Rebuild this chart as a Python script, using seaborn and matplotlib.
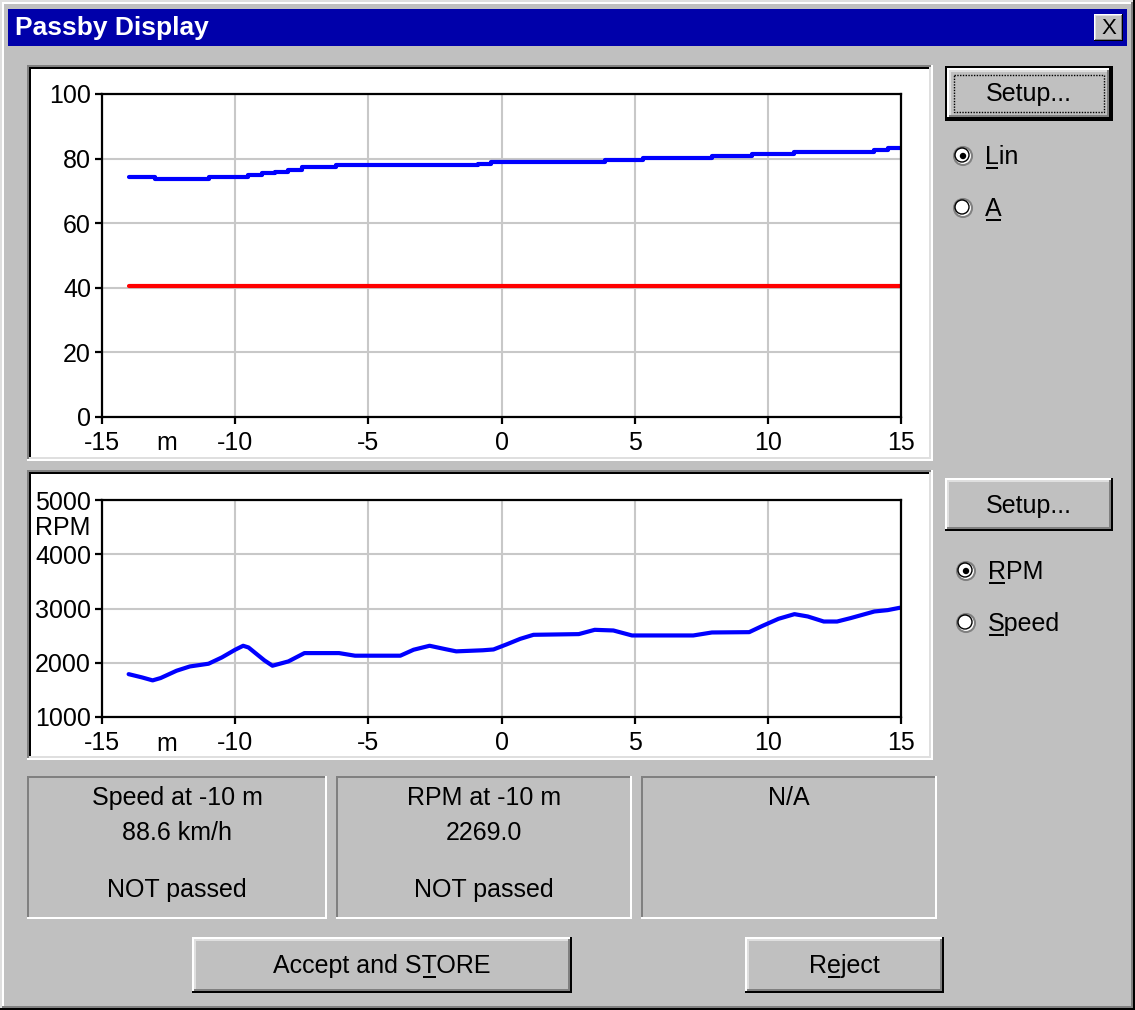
import matplotlib
matplotlib.use("Agg")
import matplotlib.pyplot as plt
import seaborn as sns
from matplotlib.patches import Rectangle, Circle

sns.set_style("white")
plt.rcParams['font.family'] = ['Liberation Sans', 'DejaVu Sans']

# ---------------- data ----------------
level_x = [-14, -13, -11, -9.5, -9, -8.5, -8, -7.5, -6.2, -0.9, -0.4, 3.9, 5.3, 7.9, 9.4, 11, 14, 14.5, 15]
level_db = [74.3, 73.8, 74.3, 74.8, 75.4, 76.0, 76.6, 77.3, 77.9, 78.4, 79.0, 79.6, 80.2, 80.8, 81.4, 82.0, 82.6, 83.3, 83.3]
limit_x = [-14, 15]
limit_db = [40.7, 40.7]
rpm_x = [-14, -13.5, -13.1, -12.8, -12.2, -11.7, -11, -10.5, -10, -9.7, -9.5, -8.9, -8.6, -8.0,
         -7.4, -6.1, -5.5, -3.8, -3.3, -2.7, -2.1, -1.7, -0.7, -0.3, 0.2, 0.7, 1.2, 2.9, 3.5, 4.2,
         4.9, 7.2, 7.9, 9.3, 9.8, 10.4, 11.0, 11.5, 12.1, 12.6, 13.1, 14.0, 14.5, 15.0]
rpm_vals = [1790, 1730, 1675, 1718, 1853, 1932, 1982, 2098, 2240, 2313, 2282, 2043, 1945, 2025,
            2178, 2178, 2130, 2130, 2240, 2313, 2250, 2210, 2230, 2245, 2340, 2440, 2515, 2528, 2607, 2595,
            2503, 2503, 2558, 2564, 2680, 2810, 2896, 2853, 2760, 2760, 2822, 2945, 2970, 3018]
x_ticks = [-15, -10, -5, 0, 5, 10, 15]
level_ticks = [0, 20, 40, 60, 80, 100]
rpm_ticks = [1000, 2000, 3000, 4000, 5000]
info_lines = [["Speed at -10 m", "88.6 km/h", "NOT passed"],
              ["RPM at -10 m", "2269.0", "NOT passed"],
              ["N/A", "", ""]]

W, H = 1135, 1010
GRAY = '#C0C0C0'
DARK = '#808080'
LIGHT = '#DFDFDF'
FS = 18

fig = plt.figure(figsize=(W / 100, H / 100), dpi=100, facecolor=GRAY)
bg = fig.add_axes([0, 0, 1, 1])
bg.set_xlim(0, W)
bg.set_ylim(H, 0)
bg.axis('off')
bg.set_zorder(0)

underlines = []  # (text_artist, string, index)


def rect(x0, y0, x1, y1, fc):
    bg.add_patch(Rectangle((x0, y0), x1 - x0, y1 - y0, facecolor=fc, edgecolor='none', lw=0))


def bevel(x0, y0, x1, y1, tl, br, t=2):
    rect(x0, y0, x1, y0 + t, tl)
    rect(x0, y0, x0 + t, y1, tl)
    rect(x0, y1 - t, x1, y1, br)
    rect(x1 - t, y0, x1, y1, br)


def button(x0, y0, x1, y1, label, default=False, ul=None):
    rect(x0, y0, x1, y1, GRAY)
    if default:
        bevel(x0, y0, x1, y1, 'black', 'black', 2)
        x0, y0, x1, y1 = x0 + 2, y0 + 2, x1 - 2, y1 - 2
    bevel(x0, y0, x1, y1, 'white', 'black', 2)
    bevel(x0 + 2, y0 + 2, x1 - 2, y1 - 2, LIGHT, DARK, 2)
    if default:
        bg.add_patch(Rectangle((x0 + 7, y0 + 7), x1 - x0 - 14, y1 - y0 - 14, facecolor='none',
                               edgecolor='black', lw=1, linestyle=(0, (1, 1))))
    t = bg.text((x0 + x1) / 2, (y0 + y1) / 2 + 1, label, ha='center', va='center', fontsize=FS, color='black')
    if ul is not None:
        underlines.append((t, label, ul))


def radio(cx, cy, label, checked, ul=0):
    bg.add_patch(Circle((cx, cy), 9, facecolor='white', edgecolor=DARK, lw=1.5))
    bg.add_patch(Circle((cx - 1, cy - 1), 7, facecolor='none', edgecolor='black', lw=1.0))
    if checked:
        bg.add_patch(Circle((cx, cy), 3.2, facecolor='black', edgecolor='none'))
    t = bg.text(cx + 22, cy + 1, label, ha='left', va='center', fontsize=FS, color='black')
    underlines.append((t, label, ul))


# window frame
bevel(0, 0, W, H, LIGHT, 'black', 2)
bevel(2, 2, W - 2, H - 2, 'white', DARK, 2)
# title bar
rect(8, 9, 1127, 46, '#0000AA')
bg.text(15, 28.5, "Passby Display", ha='left', va='center', fontsize=19, fontweight='bold', color='white')
# close button
rect(1094, 14, 1123, 41, GRAY)
bevel(1094, 14, 1123, 41, 'white', 'black', 1)
bevel(1095, 15, 1122, 40, LIGHT, DARK, 1)
bg.text(1108.5, 28, "X", ha='center', va='center', fontsize=16, color='black')

# chart panels (sunken white)
for (x0, y0, x1, y1) in [(27, 65, 933, 461), (27, 470, 933, 760)]:
    rect(x0, y0, x1, y1, 'white')
    bevel(x0, y0, x1, y1, DARK, 'white', 2)
    bevel(x0 + 2, y0 + 2, x1 - 2, y1 - 2, 'black', LIGHT, 2)

# info boxes
for i, (x0, x1) in enumerate([(27, 327), (336, 632), (641, 937)]):
    bevel(x0, 776, x1, 919, DARK, 'white', 2)
    cx = (x0 + x1) / 2
    for txt, y in zip(info_lines[i], [798, 833, 890]):
        bg.text(cx, y, txt, ha='center', va='center', fontsize=FS, color='black')

# buttons
button(945, 66, 1113, 121, "Setup...", default=True)
button(945, 478, 1113, 531, "Setup...")
button(192, 937, 572, 993, "Accept and STORE", ul=12)
button(745, 937, 944, 993, "Reject", ul=1)

# radio buttons
radio(963, 156, "Lin", True)
radio(963, 208, "A", False)
radio(966, 571, "RPM", True)
radio(966, 623, "Speed", False)


def make_axes(left, top, right, bottom):
    ax = fig.add_axes([left / W, 1 - bottom / H, (right - left) / W, (bottom - top) / H])
    ax.set_zorder(1)
    ax.patch.set_alpha(0)
    for s in ax.spines.values():
        s.set_color('black')
        s.set_linewidth(1.6)
        s.set_visible(True)
    ax.tick_params(direction='out', length=5, width=1.6, color='black', labelsize=FS,
                   labelcolor='black', pad=3, bottom=True, left=True)
    ax.tick_params(axis='x', pad=5)
    ax.grid(True, color='#C8C8C8', lw=1.5)
    ax.set_axisbelow(True)
    ax.set_xlim(-15, 15)
    ax.set_xticks(x_ticks)
    ax.set_xticklabels([str(t) for t in x_ticks])
    ax.set_xlabel('')
    ax.set_ylabel('')
    return ax


ax1 = make_axes(102, 94, 901, 417)
sns.lineplot(x=limit_x, y=limit_db, ax=ax1, color='#FF0000', lw=3, legend=False)
sns.lineplot(x=level_x, y=level_db, ax=ax1, color='#0000FF', lw=3, drawstyle='steps-post', legend=False)
ax1.set_ylim(0, 100)
ax1.set_yticks(level_ticks)
ax1.set_yticklabels([str(t) for t in level_ticks])
ax1.set_xlim(-15, 15)

ax2 = make_axes(102, 500, 901, 717)
sns.lineplot(x=rpm_x, y=rpm_vals, ax=ax2, color='#0000FF', lw=3, legend=False)
ax2.set_ylim(1000, 5000)
ax2.set_yticks(rpm_ticks)
ax2.set_yticklabels([str(t) for t in rpm_ticks])
ax2.set_xlim(-15, 15)

# unit labels
bg.text(167, 443, "m", ha='center', va='center', fontsize=FS, color='black')
bg.text(167, 744, "m", ha='center', va='center', fontsize=FS, color='black')
bg.text(90, 528, "RPM", ha='right', va='center', fontsize=FS, color='black')

# keyboard-accelerator underlines, measured from the rendered text
renderer = fig.canvas.get_renderer()
for t, s, idx in underlines:
    bb = t.get_window_extent(renderer)
    probe = bg.text(0, 0, s[:idx], fontsize=FS)
    pre_w = probe.get_window_extent(renderer).width if idx > 0 else 0.0
    probe.set_text(s[:idx + 1])
    upto_w = probe.get_window_extent(renderer).width
    probe.remove()
    x0 = bb.x0 + pre_w + 1
    x1 = bb.x0 + upto_w - 1
    ybase = H - bb.y0  # bottom of text box in pixel coords (top-down)
    rect(x0, ybase - 2.5, x1, ybase - 0.5, 'black')

fig.savefig("out.png", dpi=100, facecolor=GRAY)
